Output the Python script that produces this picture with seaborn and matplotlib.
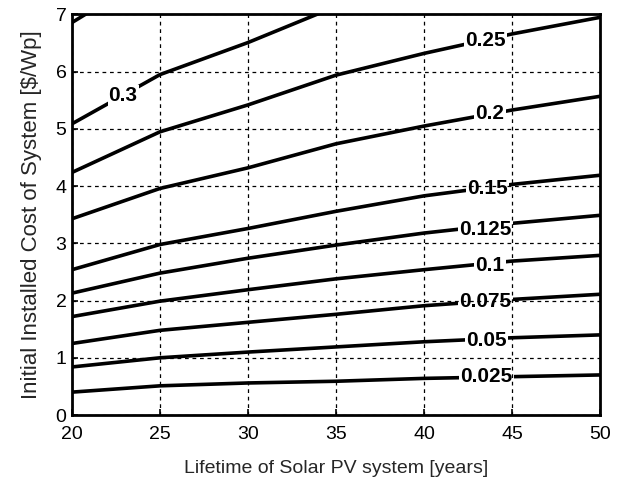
import numpy as np
import pandas as pd
import matplotlib
matplotlib.use("Agg")
import matplotlib.pyplot as plt
import seaborn as sns

# ---- data ----
lifetime = [20, 25, 30, 35, 40, 45, 50]
levels = ["0.025", "0.05", "0.075", "0.1", "0.125", "0.15", "0.2", "0.25", "0.3", "0.4"]
cost_0025 = [0.40, 0.51, 0.56, 0.59, 0.64, 0.67, 0.70]
cost_005 = [0.84, 1.00, 1.10, 1.19, 1.28, 1.35, 1.40]
cost_0075 = [1.25, 1.48, 1.62, 1.76, 1.91, 2.02, 2.11]
cost_01 = [1.72, 1.99, 2.19, 2.38, 2.54, 2.69, 2.79]
cost_0125 = [2.13, 2.48, 2.74, 2.97, 3.18, 3.35, 3.49]
cost_015 = [2.54, 2.98, 3.26, 3.56, 3.83, 4.03, 4.19]
cost_02 = [3.43, 3.96, 4.32, 4.74, 5.05, 5.33, 5.57]
cost_025 = [4.24, 4.95, 5.42, 5.94, 6.32, 6.66, 6.95]
cost_03 = [5.09, 5.95, 6.51, 7.14]
cost_04 = [6.86, 7.80]
series = [cost_0025, cost_005, cost_0075, cost_01, cost_0125, cost_015,
          cost_02, cost_025, cost_03, cost_04]

# label positions (lifetime, cost)
label_text = ["0.025", "0.05", "0.075", "0.1", "0.125", "0.15", "0.2", "0.25", "0.3"]
label_x = [43.55, 43.55, 43.5, 43.75, 43.5, 43.6, 43.75, 43.5, 22.9]
label_y = [0.67, 1.31, 1.98, 2.62, 3.25, 3.96, 5.27, 6.54, 5.58]

xticks = [20, 25, 30, 35, 40, 45, 50]
yticks = [0, 1, 2, 3, 4, 5, 6, 7]

rows = []
for lev, vals in zip(levels, series):
    for x, y in zip(lifetime, vals):
        rows.append({"lifetime": x, "cost": y, "level": lev})
df = pd.DataFrame(rows)

sns.set_style("white")
plt.rcParams["font.family"] = ["Liberation Sans", "DejaVu Sans"]

fig = plt.figure(figsize=(6.22, 4.80), dpi=100)
ax = fig.add_axes([0.1158, 0.1354, 0.8488, 0.8344])

sns.lineplot(data=df, x="lifetime", y="cost", hue="level",
             palette=["black"] * len(levels), legend=False,
             linewidth=2.6, ax=ax, zorder=2, sort=True, estimator=None)

for t, x, y in zip(label_text, label_x, label_y):
    ax.text(x, y, t, fontsize=15, fontweight="bold", ha="center", va="center",
            color="black", zorder=2.2,
            bbox=dict(facecolor="white", edgecolor="none", pad=0.8))

ax.set_xlim(20, 50)
ax.set_ylim(0, 7)
ax.set_xticks(xticks)
ax.set_yticks(yticks)
ax.grid(True, color="black", linestyle=(0, (3, 3)), linewidth=0.9)
ax.set_axisbelow(False)
for gl in ax.get_xgridlines() + ax.get_ygridlines():
    gl.set_zorder(2.5)

for sp in ax.spines.values():
    sp.set_visible(True)
    sp.set_color("black")
    sp.set_linewidth(2.0)
    sp.set_zorder(3)

ax.tick_params(direction="in", length=4, width=1.2, colors="black",
               labelsize=14, top=False, right=False, left=True, bottom=True)
ax.tick_params(axis="x", pad=8)
ax.tick_params(axis="y", pad=4)
ax.set_xlabel("Lifetime of Solar PV system [years]", fontsize=14, labelpad=12)
ax.set_ylabel("Initial Installed Cost of System [$/Wp]", fontsize=16, labelpad=10)

fig.savefig("out.png", dpi=100)
